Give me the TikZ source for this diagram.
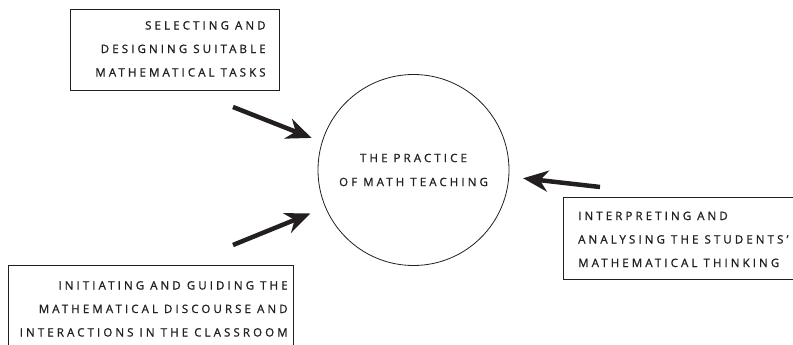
\documentclass[tikz,border=0pt]{standalone}
\usepackage{fontspec}
\setmainfont{Open Sans}
\usepackage{tikz}
\usetikzlibrary{shapes,arrows.meta,positioning,calc}
\newfontfamily\trackedcaps[LetterSpace=27, FakeBold=1]{Open Sans}
\definecolor{inkgray}{RGB}{35,31,32}

\begin{document}
\begin{tikzpicture}[x=1pt, y=1pt,
    caption box/.style={draw=inkgray, line width=0.8pt, rectangle, inner sep=0pt},
    caption text/.style={inner sep=0pt, font=\trackedcaps\fontsize{11.5}{23.5}\selectfont, text=inkgray},
    push arrow/.style={-{Stealth[length=25pt, width=21pt, inset=8pt]}, line width=4.5pt, draw=inkgray}]
    \useasboundingbox (0,0) rectangle (793,345);
    % Practice in the middle
    \node[draw=inkgray, line width=0.8pt, circle, minimum size=191pt, align=center,
        caption text, font=\trackedcaps\fontsize{11.5}{24}\selectfont] (practice) at (413.5,175)
        {THE PRACTICE\\OF MATH TEACHING};
    % Boxes
    \node[caption box, anchor=north west, minimum width=209pt, minimum height=81pt] (tasks) at (70,336) {};
    \node[caption box, anchor=north west, minimum width=260pt, minimum height=82pt] (thinking) at (563,148) {};
    \node[caption box, anchor=north west, minimum width=285pt, minimum height=87pt] (discourse) at (8,80) {};
    \node[caption text, align=right, anchor=east] (tasks text) at ([xshift=-14pt, yshift=1pt]tasks.east)
        {SELECTING AND\\DESIGNING SUITABLE\\MATHEMATICAL TASKS};
    \node[caption text, align=left, anchor=west] (thinking text) at ([xshift=15pt, yshift=-1pt]thinking.west)
        {INTERPRETING AND\\ANALYSING THE STUDENTS’\\MATHEMATICAL THINKING};
    \node[caption text, align=right, anchor=east] (discourse text) at ([xshift=-6pt]discourse.east)
        {INITIATING AND GUIDING THE\\MATHEMATICAL DISCOURSE AND\\INTERACTIONS IN THE CLASSROOM};
    % Arrows
    \coordinate (tasks tail) at (233,238);
    \coordinate (discourse tail) at (233,100);
    \coordinate (thinking tail) at (600,158);
    \draw[push arrow, shorten >=11pt] (tasks tail) -- (practice.163);
    \draw[push arrow, shorten >=16pt] (discourse tail) -- (practice.203);
    \draw[push arrow, shorten >=14pt] (thinking tail) -- (practice.356);
\end{tikzpicture}
\end{document}
